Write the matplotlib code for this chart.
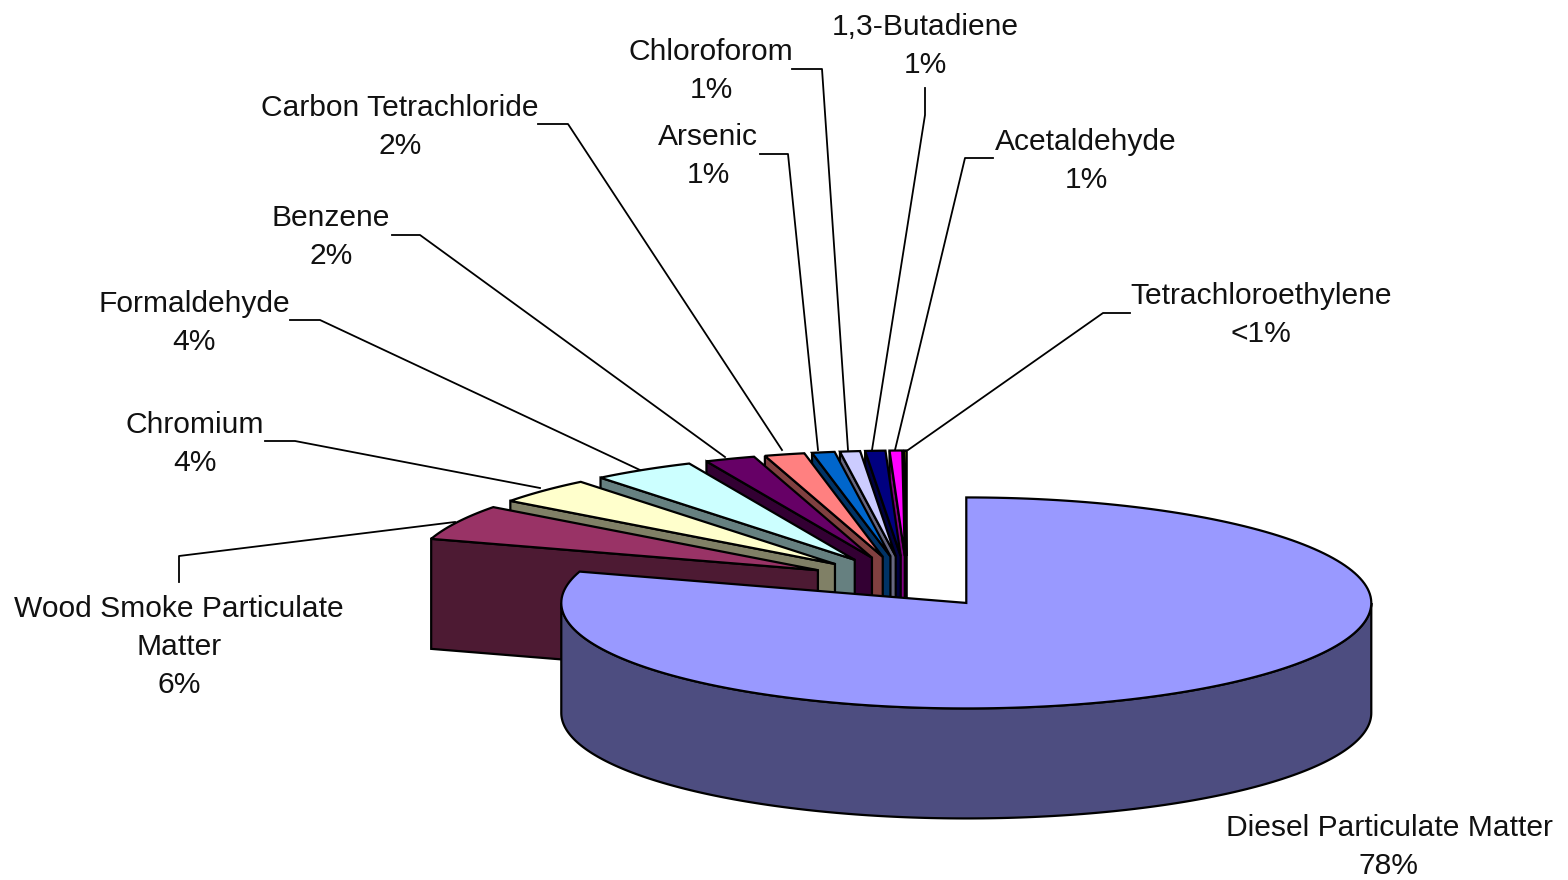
import numpy as np
import matplotlib
matplotlib.use("Agg")
import matplotlib.pyplot as plt
from matplotlib.patches import Polygon

plt.rcParams['font.family'] = ['Liberation Sans', 'DejaVu Sans']

categories = ["Diesel Particulate Matter", "Wood Smoke Particulate\nMatter", "Chromium",
              "Formaldehyde", "Benzene", "Carbon Tetrachloride", "Arsenic",
              "Chloroforom", "1,3-Butadiene", "Acetaldehyde", "Tetrachloroethylene"]
pct_labels = ["78%", "6%", "4%", "4%", "2%", "2%", "1%", "1%", "1%", "1%", "<1%"]
values = [79.8, 5.4, 4.0, 4.1, 2.0, 1.6, 0.9, 0.8, 0.8, 0.5, 0.1]
top_colors = ["#9999FF", "#993366", "#FFFFCC", "#CCFFFF", "#660066", "#FF8080",
              "#0066CC", "#CCCCFF", "#000080", "#FF00FF", "#FFFF00"]
wall_colors = ["#4D4D80", "#4D1A33", "#808066", "#668080", "#330033", "#804040",
               "#003366", "#666680", "#000040", "#800080", "#808000"]

CX, CY, RX, RY, DEPTH = 907.0, 582.0, 405.0, 105.5, 110.0
EX, EY = 100.0, 26.0

label_xy = [(1389, 847), (179, 647), (195, 444), (194, 323), (331, 237), (400, 127),
            (708, 156), (711, 71), (925, 46), (1086, 161), (1261, 315)]
leaders = [None,
           [(179, 582), (179, 556), (455, 522)],
           [(265, 441), (295, 441), (540, 488)],
           [(290, 320), (320, 320), (640, 470)],
           [(392, 235), (420, 235), (725, 457)],
           [(538, 124), (568, 124), (782, 450)],
           [(760, 154), (788, 154), (818, 450)],
           [(792, 69), (822, 69), (848, 450)],
           [(925, 88), (925, 115), (872, 450)],
           [(993, 158), (965, 158), (895, 450)],
           [(1130, 313), (1103, 313), (908, 450)]]

fig = plt.figure(figsize=(15.68, 8.8), dpi=100)
ax = fig.add_axes([0, 0, 1, 1])
ax.set_xlim(0, 1568)
ax.set_ylim(880, 0)
ax.axis("off")

vals = np.array(values, dtype=float)
edges = np.concatenate([[0.0], np.cumsum(vals) / vals.sum() * 2 * np.pi])


def rim(x0, y0, a):
    return x0 + RX * np.sin(a), y0 - RY * np.cos(a)


LW = 1.6
for i in range(len(vals) - 1, -1, -1):
    a0, a1 = edges[i], edges[i + 1]
    mid = (a0 + a1) / 2
    x0 = CX + EX * np.sin(mid)
    y0 = CY - EY * np.cos(mid)
    aa = np.linspace(a0, a1, 200)
    rx, ry = rim(x0, y0, aa)
    # front outer wall
    lo, hi = max(a0, np.pi / 2), min(a1, 1.5 * np.pi)
    if hi > lo:
        af = np.linspace(lo, hi, 200)
        fx, fy = rim(x0, y0, af)
        ax.add_patch(Polygon(np.column_stack([np.r_[fx, fx[::-1]], np.r_[fy, fy[::-1] + DEPTH]]),
                             closed=True, fc=wall_colors[i], ec="black", lw=LW))
    # radial wall at the leading edge
    if i > 0:
        sx, sy = rim(x0, y0, a0)
        ax.add_patch(Polygon([(x0, y0), (sx, sy), (sx, sy + DEPTH), (x0, y0 + DEPTH)],
                             closed=True, fc=wall_colors[i], ec="black", lw=LW))
    ax.add_patch(Polygon(np.column_stack([np.r_[x0, rx], np.r_[y0, ry]]),
                         closed=True, fc=top_colors[i], ec="black", lw=LW))

for name, pct, (tx, ty), lead in zip(categories, pct_labels, label_xy, leaders):
    ax.text(tx, ty, name + "\n" + pct, ha="center", va="center", fontsize=21.6,
            color="#111111", linespacing=1.46)
    if lead is not None:
        xs, ys = zip(*lead)
        ax.plot(xs, ys, color="black", lw=1.3)

fig.savefig("out.png", dpi=100)
